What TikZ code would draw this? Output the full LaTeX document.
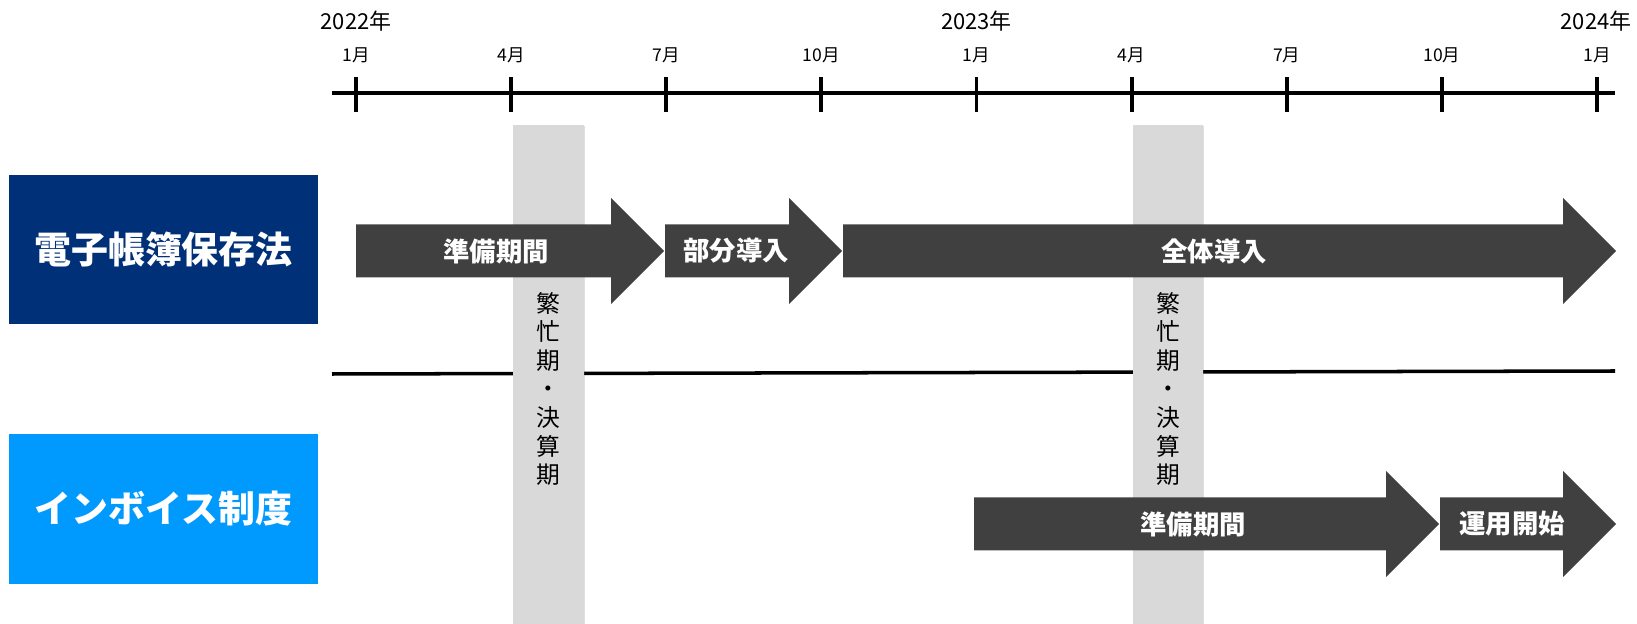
\documentclass[tikz,border=0pt]{standalone}
\usepackage{fontspec}
\setmainfont{Noto Sans CJK JP}
\usepackage{tikz}
\usetikzlibrary{shadows}
\definecolor{navy}{RGB}{0,48,120}
\definecolor{sky}{RGB}{0,154,255}
\definecolor{phasegray}{RGB}{64,64,64}
\definecolor{bandgray}{RGB}{217,217,217}

\begin{document}
\begin{tikzpicture}[x=0.02cm,y=-0.02cm,
	month/.style={font=\fontsize{10}{12}\selectfont},
	year/.style={font=\fontsize{12.5}{14}\selectfont},
	law/.style={fill=#1,text=white,font=\fontsize{21}{24}\selectfont\bfseries,minimum width=6.18cm,inner sep=0pt},
	phase/.style={fill=phasegray},
	phasetext/.style={text=white,font=\fontsize{15}{18}\selectfont\bfseries},
	band/.style={fill=bandgray,drop shadow={shadow xshift=0.6pt,shadow yshift=-0.6pt,opacity=0.25}},
	busy/.style={align=center,inner sep=0pt,font=\fontsize{13.5}{16.3}\selectfont}]
\useasboundingbox (0,0) rectangle (1637,624);

% time axis
\draw[line width=2.5pt] (332,93) -- (1615,93);
\foreach \i/\m in {0/1,1/4,2/7,3/10,4/1,5/4,6/7,7/10,8/1}
{
	\coordinate (t\i) at (356+155.125*\i,93);
	\draw[line width=2.2pt] (356+155.125*\i,77) -- (356+155.125*\i,112);
	\node[month] (m\i) at (356+155.125*\i,55) {\m 月};
}
\node[year] (y2022) at (t0 |- 0,21) {2022年};
\node[year] (y2023) at (t4 |- 0,21) {2023年};
\node[year] (y2024) at (1596,21) {2024年};

% row labels
\node[law=navy,minimum height=2.98cm] (ebook) at (163.5,249.5) {電子帳簿保存法};
\node[law=sky,minimum height=3cm] (invoice) at (163.5,509) {インボイス制度};

% separator
\draw[line width=2pt] (332,374) -- (1615,371);

% busy seasons
\fill[band] (513,125) rectangle (584,624);
\fill[band] (1133,125) rectangle (1203,624);

% phases
\foreach \s/\e/\y/\tx/\nm/\lbl in {356/664/251/496/prepA/準備期間,
	665/842/251/736/partA/部分導入,
	843/1616/251/1214/fullA/全体導入,
	974/1439/524/1193/prepB/準備期間,
	1440/1616/524/1512/runB/運用開始}
{
	\fill[phase] (\s,\y-26.5) -- (\e-53,\y-26.5) -- (\e-53,\y-53) -- (\e,\y)
		-- (\e-53,\y+53) -- (\e-53,\y+26.5) -- (\s,\y+26.5) -- cycle;
	\node[phasetext] (\nm) at (\tx,\y) {\lbl};
}

\node[busy] (busyA) at (548.5,389) {繁\\忙\\期\\・\\決\\算\\期};
\node[busy] (busyB) at (1168,389) {繁\\忙\\期\\・\\決\\算\\期};
\end{tikzpicture}
\end{document}
